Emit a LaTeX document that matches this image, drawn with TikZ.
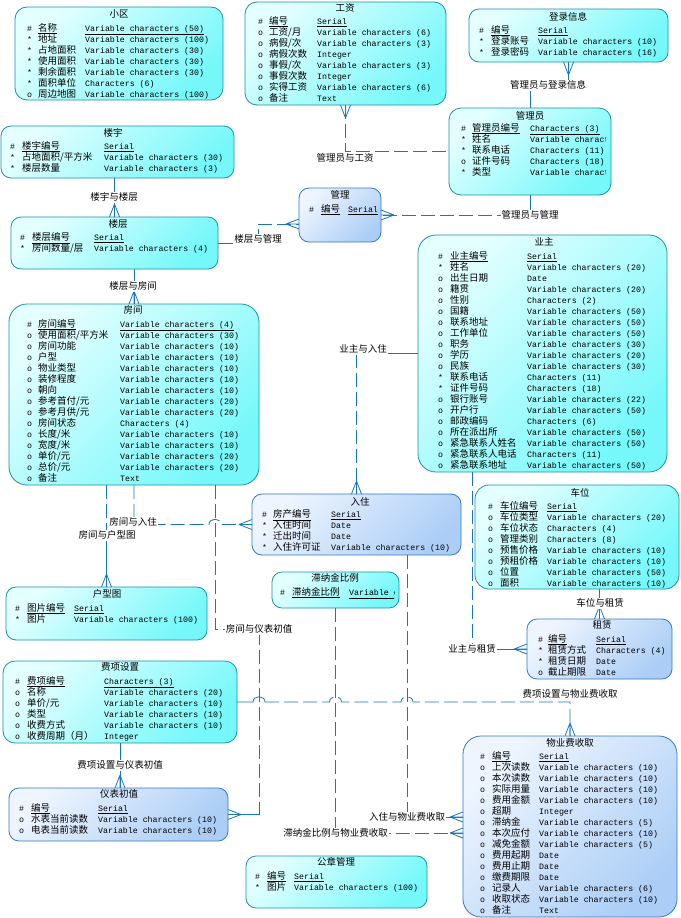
\documentclass[tikz,border=0pt]{standalone}
\usepackage{fontspec}
\setmainfont{Liberation Mono}
\newfontfamily\cjkf{Noto Sans CJK SC}
\newfontfamily\monof{Liberation Mono}
\definecolor{cyanL}{RGB}{228,255,255}
\definecolor{cyanD}{RGB}{118,248,250}
\definecolor{cyanB}{RGB}{25,145,165}
\definecolor{blueL}{RGB}{238,245,255}
\definecolor{blueD}{RGB}{172,206,246}
\definecolor{blueB}{RGB}{50,122,192}
\definecolor{lineC}{RGB}{25,118,188}
\tikzset{
 conn/.style={draw=lineC, line width=0.8pt},
 opt/.style={dash pattern=on 14pt off 5pt},
 cbox/.style={draw=cyanB, line width=0.8pt, rounded corners=10pt, top color=cyanL, bottom color=cyanD, shading angle=45, inner sep=0pt, outer sep=0pt},
 bbox/.style={draw=blueB, line width=0.8pt, rounded corners=10pt, top color=blueL, bottom color=blueD, shading angle=45, inner sep=0pt, outer sep=0pt},
 symb/.style={anchor=base west, inner sep=0pt, font=\monof\fontsize{8.25}{10}\selectfont},
 nm/.style={anchor=base west, inner sep=0pt, font=\cjkf\fontsize{9.5}{10}\selectfont},
 ty/.style={anchor=base west, inner sep=0pt, font=\monof\fontsize{8.25}{10}\selectfont},
 ttl/.style={anchor=base, inner sep=0pt, font=\cjkf\fontsize{9.5}{10}\selectfont},
 lab/.style={fill=white, inner sep=1pt, font=\cjkf\fontsize{9.5}{10}\selectfont, text height=7.5pt, text depth=1.5pt},
}
\newcommand\Bx[6]{\node[#2, minimum width={#5pt-#3pt}, minimum height={#6pt-#4pt}] (#1) at ({(#3+#5)/2},{(#4+#6)/2}) {};}
\newcommand\Ent[5]{\def\cp{#1}\def\cs{#2}\def\cn{#3}\def\ct{#4}\def\cy{#5}}
\newcommand\T[3]{\node[ttl] (\cp T) at (#1,{#2+3.5}) {#3};}
\newcommand\R[4]{%
 \node[symb] (\cp s#1) at (\cs,{\cy+11*#1-7.5}) {#2};
 \node[nm] (\cp n#1) at (\cn,{\cy+11*#1-7.5}) {#3};
 \node[ty] (\cp t#1) at (\ct,{\cy+11*#1-7.5}) {#4};}
\newcommand\crow[4]{\draw[conn] ({#1+13*(#3)},{#2+13*(#4)}) -- ({#1-5*(#4)},{#2-5*(#3)}) ({#1+13*(#3)},{#2+13*(#4)}) -- (#1,#2) ({#1+13*(#3)},{#2+13*(#4)}) -- ({#1+5*(#4)},{#2+5*(#3)});}
\begin{document}
\begin{tikzpicture}[x=1pt,y=-1pt]
\useasboundingbox (0,0) rectangle (680,918);
% ---------- boxes ----------
\Bx{xq}{cbox,rounded corners=12pt}{15}{7}{223}{100}
\Bx{gz}{cbox,rounded corners=12pt}{245}{2}{446}{105}
\Bx{dl}{cbox}{469}{9}{668}{62}
\Bx{gly}{cbox,rounded corners=12pt}{449}{108}{611}{195}
\Bx{ly}{cbox}{1}{126}{234}{178}
\Bx{lc}{cbox}{11}{217}{218}{269}
\Bx{gl}{bbox}{299}{188}{381}{242}
\Bx{yz}{cbox,rounded corners=18pt}{418}{235}{667}{472}
\Bx{fj}{cbox,rounded corners=18pt}{9}{304}{259}{485}
\Bx{rz}{bbox}{252}{494}{461}{555}
\Bx{cw}{cbox,rounded corners=14pt}{475}{485}{679}{589}
\Bx{zn}{cbox}{272}{572}{399}{608}
\Bx{hx}{cbox}{6}{587}{207}{640}
\Bx{zl}{bbox}{527}{619}{672}{679}
\Bx{fx}{cbox,rounded corners=12pt}{3}{661}{237}{743}
\Bx{yb}{bbox}{9}{788}{228}{841}
\Bx{gzgl}{cbox}{246}{856}{427}{908}
\Bx{wy}{bbox,rounded corners=18pt}{463}{736}{677}{917}
% ---------- texts ----------
\Ent{xq}{27}{38}{85}{28}
\T{119}{14}{小区}
\R{1}{\#}{\underline{名称}}{\underline{Variable characters (50)}}
\R{2}{*}{地址}{Variable characters (100)}
\R{3}{*}{占地面积}{Variable characters (30)}
\R{4}{*}{使用面积}{Variable characters (30)}
\R{5}{*}{剩余面积}{Variable characters (30)}
\R{6}{*}{面积单位}{Characters (6)}
\R{7}{o}{周边地图}{Variable characters (100)}

\Ent{gz}{258}{269}{317}{21}
\T{345}{8}{工资}
\R{1}{\#}{\underline{编号}}{\underline{Serial}}
\R{2}{o}{工资/月}{Variable characters (6)}
\R{3}{o}{病假/次}{Variable characters (3)}
\R{4}{o}{病假次数}{Integer}
\R{5}{o}{事假/次}{Variable characters (3)}
\R{6}{o}{事假次数}{Integer}
\R{7}{o}{实得工资}{Variable characters (6)}
\R{8}{o}{备注}{Text}

\Ent{dl}{479}{491}{538}{30}
\T{568}{17}{登录信息}
\R{1}{\#}{\underline{编号}}{\underline{Serial}}
\R{2}{*}{登录账号}{Variable characters (10)}
\R{3}{*}{登录密码}{Variable characters (16)}

\Ent{gly}{461}{472}{530}{128}
\T{530}{116}{管理员}
\begin{scope}
\clip (449,108) rectangle (605,195);
\R{1}{\#}{\underline{管理员编号}}{\underline{Characters (3)}}
\R{2}{*}{姓名}{Variable characters (20)}
\R{3}{*}{联系电话}{Characters (11)}
\R{4}{o}{证件号码}{Characters (18)}
\R{5}{*}{类型}{Variable characters (10)}
\end{scope}

\Ent{ly}{10}{22}{104}{146}
\T{113}{133}{楼宇}
\R{1}{\#}{\underline{楼宇编号}}{\underline{Serial}}
\R{2}{*}{占地面积/平方米}{Variable characters (30)}
\R{3}{*}{楼层数量}{Variable characters (3)}

\Ent{lc}{20}{32}{94}{237}
\T{118}{224}{楼层}
\R{1}{\#}{\underline{楼层编号}}{\underline{Serial}}
\R{2}{*}{房间数量/层}{Variable characters (4)}

\Ent{gl}{309}{321}{348}{209}
\T{340}{195}{管理}
\R{1}{\#}{\underline{编号}}{\underline{Serial}}

\Ent{yz}{438}{450}{527}{256}
\T{544}{242}{业主}
\R{1}{\#}{\underline{业主编号}}{\underline{Serial}}
\R{2}{*}{姓名}{Variable characters (20)}
\R{3}{o}{出生日期}{Date}
\R{4}{o}{籍贯}{Variable characters (20)}
\R{5}{o}{性别}{Characters (2)}
\R{6}{o}{国籍}{Variable characters (50)}
\R{7}{o}{联系地址}{Variable characters (50)}
\R{8}{o}{工作单位}{Variable characters (50)}
\R{9}{o}{职务}{Variable characters (30)}
\R{10}{o}{学历}{Variable characters (20)}
\R{11}{o}{民族}{Variable characters (30)}
\R{12}{*}{联系电话}{Characters (11)}
\R{13}{*}{证件号码}{Characters (18)}
\R{14}{o}{银行账号}{Variable characters (22)}
\R{15}{o}{开户行}{Variable characters (50)}
\R{16}{o}{邮政编码}{Characters (6)}
\R{17}{o}{所在派出所}{Variable characters (50)}
\R{18}{o}{紧急联系人姓名}{Variable characters (50)}
\R{19}{o}{紧急联系人电话}{Characters (11)}
\R{20}{o}{紧急联系地址}{Variable characters (50)}

\Ent{fj}{27}{38}{120}{324}
\T{133}{310}{房间}
\R{1}{\#}{\underline{房间编号}}{\underline{Variable characters (4)}}
\R{2}{o}{使用面积/平方米}{Variable characters (30)}
\R{3}{o}{房间功能}{Variable characters (10)}
\R{4}{o}{户型}{Variable characters (10)}
\R{5}{o}{物业类型}{Variable characters (10)}
\R{6}{o}{装修程度}{Variable characters (10)}
\R{7}{o}{朝向}{Variable characters (10)}
\R{8}{o}{参考首付/元}{Variable characters (20)}
\R{9}{o}{参考月供/元}{Variable characters (20)}
\R{10}{o}{房间状态}{Characters (4)}
\R{11}{o}{长度/米}{Variable characters (10)}
\R{12}{o}{宽度/米}{Variable characters (10)}
\R{13}{o}{单价/元}{Variable characters (20)}
\R{14}{o}{总价/元}{Variable characters (20)}
\R{15}{o}{备注}{Text}

\Ent{rz}{262}{273}{331}{514}
\T{360}{502}{入住}
\R{1}{\#}{\underline{房产编号}}{\underline{Serial}}
\R{2}{*}{入住时间}{Date}
\R{3}{*}{迁出时间}{Date}
\R{4}{*}{入住许可证}{Variable characters (10)}

\Ent{cw}{488}{500}{547}{506}
\T{580}{493}{车位}
\R{1}{\#}{\underline{车位编号}}{\underline{Serial}}
\R{2}{o}{车位类型}{Variable characters (20)}
\R{3}{o}{车位状态}{Characters (4)}
\R{4}{o}{管理类别}{Characters (8)}
\R{5}{o}{预售价格}{Variable characters (10)}
\R{6}{o}{预租价格}{Variable characters (10)}
\R{7}{o}{位置}{Variable characters (50)}
\R{8}{o}{面积}{Variable characters (10)}

\Ent{zn}{280}{292}{349}{592}
\T{335}{578}{滞纳金比例}
\begin{scope}
\clip (272,572) rectangle (394,608);
\R{1}{\#}{\underline{滞纳金比例}}{\underline{Variable characters (10)}}
\end{scope}

\Ent{hx}{15}{27}{74}{608}
\T{107}{594}{户型图}
\R{1}{\#}{\underline{图片编号}}{\underline{Serial}}
\R{2}{*}{图片}{Variable characters (100)}

\Ent{zl}{538}{548}{596}{639}
\T{602}{625}{租赁}
\R{1}{\#}{\underline{编号}}{\underline{Serial}}
\R{2}{*}{租赁方式}{Characters (4)}
\R{3}{*}{租赁日期}{Date}
\R{4}{o}{截止期限}{Date}

\Ent{fx}{15}{27}{104}{681}
\T{120}{667}{费项设置}
\R{1}{\#}{\underline{费项编号}}{\underline{Characters (3)}}
\R{2}{o}{名称}{Variable characters (20)}
\R{3}{o}{单价/元}{Variable characters (10)}
\R{4}{o}{类型}{Variable characters (10)}
\R{5}{o}{收费方式}{Variable characters (10)}
\R{6}{o}{收费周期（月）}{Integer}

\Ent{yb}{19}{31}{98}{808}
\T{119}{794}{仪表初值}
\R{1}{\#}{\underline{编号}}{\underline{Serial}}
\R{2}{o}{水表当前读数}{Variable characters (10)}
\R{3}{o}{电表当前读数}{Variable characters (10)}

\Ent{gzgl}{255}{267}{294}{876}
\T{336}{862}{公章管理}
\R{1}{\#}{\underline{编号}}{\underline{Serial}}
\R{2}{*}{图片}{Variable characters (100)}

\Ent{wy}{480}{492}{539}{756}
\T{570}{743}{物业费收取}
\R{1}{\#}{\underline{编号}}{\underline{Serial}}
\R{2}{o}{上次读数}{Variable characters (10)}
\R{3}{o}{本次读数}{Variable characters (10)}
\R{4}{o}{实际用量}{Variable characters (10)}
\R{5}{o}{费用金额}{Variable characters (10)}
\R{6}{o}{超期}{Integer}
\R{7}{o}{滞纳金}{Variable characters (5)}
\R{8}{o}{本次应付}{Variable characters (10)}
\R{9}{o}{减免金额}{Variable characters (5)}
\R{10}{o}{费用起期}{Date}
\R{11}{o}{费用止期}{Date}
\R{12}{o}{缴费期限}{Date}
\R{13}{o}{记录人}{Variable characters (6)}
\R{14}{o}{收取状态}{Variable characters (10)}
\R{15}{o}{备注}{Text}

% ---------- connector points ----------
\coordinate (k1) at (345,158);
\coordinate (k2) at (548,85);
\coordinate (k3) at (530,215);
\coordinate (k4) at (114,197);
\coordinate (k5) at (258,239);
\coordinate (k6) at (133,286);
\coordinate (k7) at (363,349);
\coordinate (k8) at (107,535);
\coordinate (k9) at (133,522);
\coordinate (k10) at (259,629);
\coordinate (k11) at (407,817);
\coordinate (k12) at (335.5,833);
\coordinate (k13) at (472,649);
\coordinate (k14) at (600,603);
\coordinate (k15) at (570,694);
\coordinate (k16) at (120,765);
\coordinate (a10) at (215,485);
\coordinate (a11) at (407,555);
\coordinate (a13) at (472,472);

% ---------- connectors ----------
% 管理员与工资
\draw[conn,opt] (gz.south) |- (gly.west);
\crow{345.5}{105}{0}{1}
% 管理员与登录信息
\draw[conn] (dl.south) |- (k2) -| (gly.north);
\crow{568.5}{62}{0}{1}
% 管理员与管理
\draw[conn] (gly.south) -- (gly.south |- gl.east);
\draw[conn,opt] (gly.south |- gl.east) -- (gl.east);
\crow{381}{215}{1}{0}
% 楼宇与楼层
\draw[conn] (ly.south -| lc.north) -- (lc.north);
\crow{114.5}{217}{0}{-1}
% 楼层与管理
\draw[conn] (lc.east) -- (lc.east -| k5);
\draw[conn,opt] (lc.east -| k5) |- ([yshift=-9pt]gl.west);
\crow{299}{224}{-1}{0}
% 楼层与房间
\draw[conn] (lc.south -| fj.north) -- (fj.north);
\crow{134}{304}{0}{-1}
% 业主与入住
\draw[conn] (yz.west) -- (yz.west -| rz.north);
\draw[conn,opt] (yz.west -| rz.north) -- (rz.north);
\crow{356.5}{494}{0}{-1}
% 房间与户型图
\draw[conn,opt] (fj.south -| hx.north) -- (hx.north |- k8);
\draw[conn] (hx.north |- k8) -- (hx.north);
\crow{106.5}{587}{0}{-1}
% 房间与入住
\draw[conn,opt] (fj.south) |- (209,524.5) .. controls (209,517.5) and (221,517.5) .. (221,524.5) -- (rz.west);
\crow{252}{524.5}{-1}{0}
% 房间与仪表初值
\draw[conn,opt] (a10) |- (k10) -- (k10 |- yb.east);
\draw[conn] (k10 |- yb.east) -- (yb.east);
\crow{228}{814.5}{1}{0}
% 入住与物业费收取
\draw[conn,opt] (a11) -- (k11);
\draw[conn] (k11) -- ([yshift=9.5pt]wy.west);
\crow{463}{817}{-1}{0}
% 滞纳金比例与物业费收取
\draw[conn,opt] (zn.south) -- (k12) -- ([yshift=-6.5pt]wy.west);
\crow{463}{833}{-1}{0}
% 业主与租赁
\draw[conn,opt] (a13) -- (k13);
\draw[conn] (k13) -- (zl.west);
\crow{527}{649}{-1}{0}
% 车位与租赁
\draw[conn] (cw.south -| zl.north) -- (zl.north);
\crow{599.5}{619}{0}{-1}
% 费项设置与物业费收取
\draw[conn] (fx.east) -- (253,702) .. controls (253,695) and (265,695) .. (265,702);
\draw[conn,opt] (265,702) -- (329.5,702) .. controls (329.5,695) and (341.5,695) .. (341.5,702) -- (401,702) .. controls (401,695) and (413,695) .. (413,702) -- (wy.north |- fx.east) -- (wy.north);
\crow{570}{736}{0}{-1}
% 费项设置与仪表初值
\draw[conn] (fx.south) -- (fx.south |- yb.north);
\crow{120}{788}{0}{-1}

% ---------- labels ----------
\node[lab] (lb1) at (k1) {管理员与工资};
\node[lab] (lb2) at (k2) {管理员与登录信息};
\node[lab] (lb3) at (k3) {管理员与管理};
\node[lab] (lb4) at (k4) {楼宇与楼层};
\node[lab] (lb5) at (k5) {楼层与管理};
\node[lab] (lb6) at (k6) {楼层与房间};
\node[lab] (lb7) at (k7) {业主与入住};
\node[lab] (lb8) at (k8) {房间与户型图};
\node[lab] (lb9) at (k9) {房间与入住};
\node[lab] (lb10) at (k10) {房间与仪表初值};
\node[lab] (lb11) at (k11) {入住与物业费收取};
\node[lab] (lb12) at (k12) {滞纳金比例与物业费收取};
\node[lab] (lb13) at (k13) {业主与租赁};
\node[lab] (lb14) at (k14) {车位与租赁};
\node[lab] (lb15) at (k15) {费项设置与物业费收取};
\node[lab] (lb16) at (k16) {费项设置与仪表初值};
\end{tikzpicture}
\end{document}
